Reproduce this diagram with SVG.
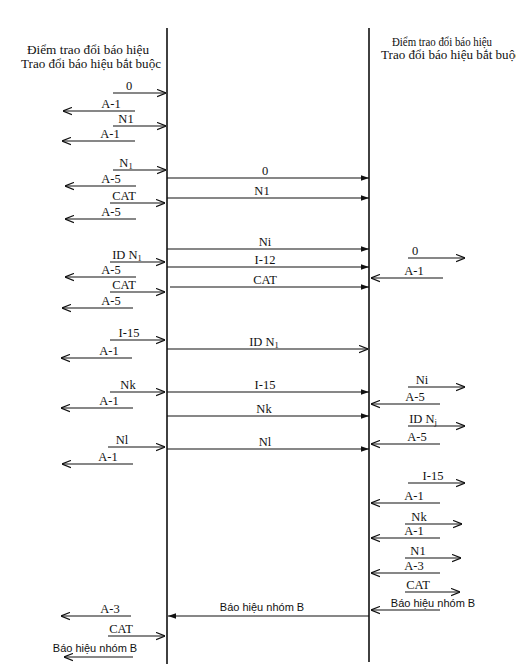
<svg xmlns="http://www.w3.org/2000/svg" width="516" height="672" viewBox="0 0 516 672">
<style>
.ln{stroke:#111;stroke-width:1.2;fill:none}
.vl{stroke:#111;stroke-width:1.6;fill:none}
.t{font-family:"Liberation Serif","Times New Roman","DejaVu Serif",serif;font-size:12.5px;fill:#111}
.h{font-family:"Liberation Serif","Times New Roman","DejaVu Serif",serif;font-size:11.5px;fill:#111}
.s{font-family:"Liberation Sans",Arial,sans-serif;font-size:11px;fill:#111}
.o{marker-end:url(#open)}
.f{marker-end:url(#fill)}
</style>
<defs>
<marker id="open" viewBox="0 0 10 10" refX="10" refY="5" markerWidth="9" markerHeight="9" markerUnits="userSpaceOnUse" orient="auto">
<path d="M0,1 L10,5 L0,9" fill="none" stroke="#111" stroke-width="1.3"/>
</marker>
<marker id="fill" viewBox="0 0 10 10" refX="10" refY="5" markerWidth="8" markerHeight="8" markerUnits="userSpaceOnUse" orient="auto">
<path d="M0,1.5 L10,5 L0,8.5 Z" fill="#111"/>
</marker>
</defs>
<g id="left-point">
<line class="vl" x1="167" y1="28" x2="167" y2="664"/>
<text class="h" x="88" y="54" text-anchor="middle" textLength="122" lengthAdjust="spacingAndGlyphs">Điểm trao đổi báo hiệu</text>
<text class="h" x="91" y="68" text-anchor="middle" textLength="140" lengthAdjust="spacingAndGlyphs">Trao đổi báo hiệu bắt buộc</text>
</g>
<g id="right-point">
<line class="vl" x1="369" y1="28" x2="369" y2="662"/>
<text class="h" x="392" y="46" font-size="10.5" textLength="100" lengthAdjust="spacingAndGlyphs">Điểm trao đổi báo hiệu</text>
<text class="h" x="381" y="59" font-size="11" textLength="140" lengthAdjust="spacingAndGlyphs">Trao đổi báo hiệu bắt buộc</text>
</g>
<g id="connectors">
<line class="ln o" x1="113" y1="93" x2="166" y2="93"/>
<line class="ln o" x1="135" y1="111" x2="63" y2="111"/>
<line class="ln o" x1="113" y1="126" x2="166" y2="126"/>
<line class="ln o" x1="135" y1="141" x2="62" y2="141"/>
<line class="ln o" x1="113" y1="170" x2="166" y2="170"/>
<line class="ln o" x1="136" y1="186" x2="65" y2="186"/>
<line class="ln o" x1="110" y1="203" x2="165" y2="203"/>
<line class="ln o" x1="136" y1="219" x2="65" y2="219"/>
<line class="ln o" x1="110" y1="262" x2="165" y2="262"/>
<line class="ln o" x1="136" y1="277" x2="65" y2="277"/>
<line class="ln o" x1="110" y1="292" x2="165" y2="292"/>
<line class="ln o" x1="133" y1="308" x2="62" y2="308"/>
<line class="ln o" x1="110" y1="340" x2="165" y2="340"/>
<line class="ln o" x1="132" y1="358" x2="61" y2="358"/>
<line class="ln o" x1="110" y1="392" x2="165" y2="392"/>
<line class="ln o" x1="133" y1="408" x2="61" y2="408"/>
<line class="ln o" x1="108" y1="447" x2="165" y2="447"/>
<line class="ln o" x1="133" y1="464" x2="62" y2="464"/>
<line class="ln o" x1="131" y1="616" x2="61" y2="616"/>
<line class="ln o" x1="108" y1="636" x2="165" y2="636"/>
<line class="ln o" x1="133" y1="657" x2="64" y2="657"/>
<line class="ln f" x1="167" y1="178" x2="369" y2="178"/>
<line class="ln f" x1="167" y1="198" x2="369" y2="198"/>
<line class="ln f" x1="167" y1="249" x2="369" y2="249"/>
<line class="ln f" x1="167" y1="267" x2="369" y2="267"/>
<line class="ln f" x1="170" y1="287" x2="369" y2="287"/>
<line class="ln o" x1="167" y1="349" x2="368" y2="349"/>
<line class="ln f" x1="167" y1="392" x2="369" y2="392"/>
<line class="ln f" x1="167" y1="416" x2="369" y2="416"/>
<line class="ln f" x1="167" y1="449" x2="369" y2="449"/>
<line class="ln f" x1="369" y1="616" x2="168" y2="616"/>
<line class="ln o" x1="408" y1="258" x2="465" y2="258"/>
<line class="ln o" x1="443" y1="278" x2="371" y2="278"/>
<line class="ln o" x1="408" y1="387" x2="465" y2="387"/>
<line class="ln o" x1="440" y1="404" x2="371" y2="404"/>
<line class="ln o" x1="408" y1="426" x2="465" y2="426"/>
<line class="ln o" x1="440" y1="444" x2="371" y2="444"/>
<line class="ln o" x1="408" y1="483" x2="465" y2="483"/>
<line class="ln o" x1="440" y1="503" x2="371" y2="503"/>
<line class="ln o" x1="405" y1="524" x2="462" y2="524"/>
<line class="ln o" x1="440" y1="538" x2="371" y2="538"/>
<line class="ln o" x1="405" y1="558" x2="461" y2="558"/>
<line class="ln o" x1="440" y1="573" x2="371" y2="573"/>
<line class="ln o" x1="405" y1="592" x2="460" y2="592"/>
<line class="ln o" x1="440" y1="610" x2="371" y2="610"/>
</g>
<g id="labels-left">
<text class="t" x="129" y="90" text-anchor="middle">0</text>
<text class="t" x="111" y="108" text-anchor="middle">A-1</text>
<text class="t" x="126" y="123" text-anchor="middle">N1</text>
<text class="t" x="110" y="138" text-anchor="middle">A-1</text>
<text class="t" x="126" y="167" text-anchor="middle">N<tspan font-size="8.5" dy="2">1</tspan></text>
<text class="t" x="111" y="183" text-anchor="middle">A-5</text>
<text class="t" x="124" y="200" text-anchor="middle">CAT</text>
<text class="t" x="111" y="216" text-anchor="middle">A-5</text>
<text class="t" x="127" y="259" text-anchor="middle">ID N<tspan font-size="8.5" dy="2">1</tspan></text>
<text class="t" x="111" y="274" text-anchor="middle">A-5</text>
<text class="t" x="124" y="289" text-anchor="middle">CAT</text>
<text class="t" x="111" y="305" text-anchor="middle">A-5</text>
<text class="t" x="129" y="337" text-anchor="middle">I-15</text>
<text class="t" x="109" y="355" text-anchor="middle">A-1</text>
<text class="t" x="128" y="389" text-anchor="middle">Nk</text>
<text class="t" x="109" y="405" text-anchor="middle">A-1</text>
<text class="t" x="122" y="444" text-anchor="middle">Nl</text>
<text class="t" x="108" y="461" text-anchor="middle">A-1</text>
<text class="t" x="110" y="613" text-anchor="middle">A-3</text>
<text class="t" x="121" y="633" text-anchor="middle">CAT</text>
<text class="s" x="95" y="652" text-anchor="middle">Báo hiệu nhóm B</text>
</g>
<g id="labels-middle">
<text class="t" x="265" y="175" text-anchor="middle">0</text>
<text class="t" x="262" y="195" text-anchor="middle">N1</text>
<text class="t" x="265" y="246" text-anchor="middle">Ni</text>
<text class="t" x="265" y="264" text-anchor="middle">I-12</text>
<text class="t" x="265" y="284" text-anchor="middle">CAT</text>
<text class="t" x="264" y="346" text-anchor="middle">ID N<tspan font-size="8.5" dy="2">1</tspan></text>
<text class="t" x="265" y="389" text-anchor="middle">I-15</text>
<text class="t" x="264" y="413" text-anchor="middle">Nk</text>
<text class="t" x="265" y="446" text-anchor="middle">Nl</text>
<text class="s" x="262" y="611" text-anchor="middle">Báo hiệu nhóm B</text>
</g>
<g id="labels-right">
<text class="t" x="415" y="255" text-anchor="middle">0</text>
<text class="t" x="414" y="275" text-anchor="middle">A-1</text>
<text class="t" x="422" y="384" text-anchor="middle">Ni</text>
<text class="t" x="415" y="401" text-anchor="middle">A-5</text>
<text class="t" x="423" y="423" text-anchor="middle">ID N<tspan font-size="8.5" dy="2">j</tspan></text>
<text class="t" x="417" y="441" text-anchor="middle">A-5</text>
<text class="t" x="433" y="480" text-anchor="middle">I-15</text>
<text class="t" x="414" y="500" text-anchor="middle">A-1</text>
<text class="t" x="419" y="521" text-anchor="middle">Nk</text>
<text class="t" x="414" y="535" text-anchor="middle">A-1</text>
<text class="t" x="418" y="555" text-anchor="middle">N1</text>
<text class="t" x="414" y="570" text-anchor="middle">A-3</text>
<text class="t" x="418" y="589" text-anchor="middle">CAT</text>
<text class="s" x="433" y="607" text-anchor="middle">Báo hiệu nhóm B</text>
</g>
</svg>
